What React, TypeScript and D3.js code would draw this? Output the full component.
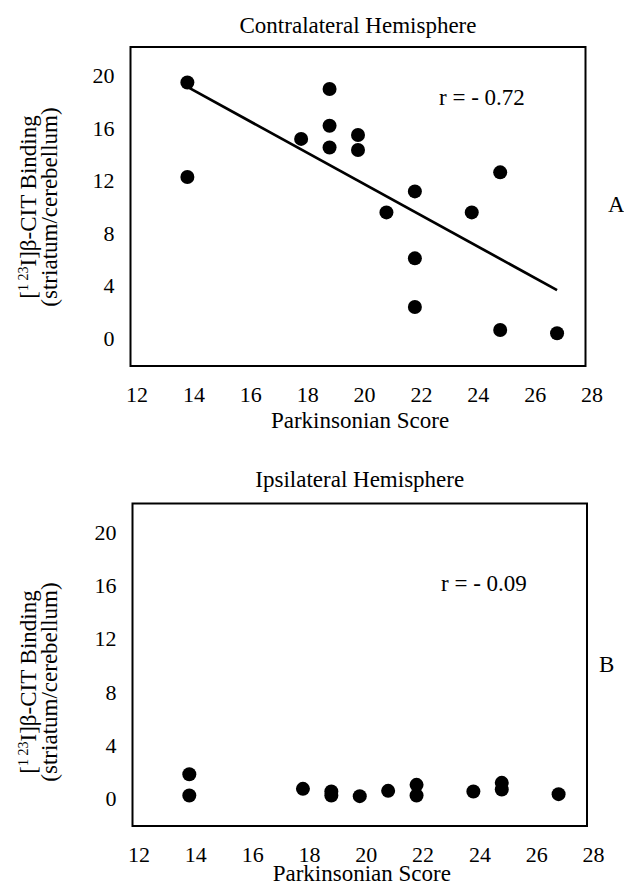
import React, { useRef, useEffect } from 'react';
import * as d3 from 'd3';

// Parkinsonian score vs [123I]β-CIT binding, contralateral / ipsilateral
const contraScores = [14, 14, 18, 19, 19, 19, 20, 20, 21, 22, 22, 22, 24, 25, 25, 27];
const contraBinding = [19.5, 12.3, 15.2, 19.0, 16.2, 14.55, 15.5, 14.35, 9.6, 11.2, 6.1, 2.4, 9.6, 12.65, 0.64, 0.4];

const ipsiScores = [14, 14, 18, 19, 19, 20, 21, 22, 22, 24, 25, 25, 27];
const ipsiBinding = [1.8, 0.2, 0.7, 0.5, 0.2, 0.15, 0.55, 1.0, 0.2, 0.5, 1.15, 0.65, 0.3];

const xTicks = [12, 14, 16, 18, 20, 22, 24, 26, 28];
const yTicks = [0, 4, 8, 12, 16, 20];

const titles = ['Contralateral Hemisphere', 'Ipsilateral Hemisphere'];
const rLabels = ['r = - 0.72', 'r = - 0.09'];
const panelLetters = ['A', 'B'];

const FONT = '"Liberation Serif", "Times New Roman", Times, serif';

const panels = [
  {
    xs: contraScores, ys: contraBinding, fit: true,
    title: titles[0], r: rLabels[0], letter: panelLetters[0],
    left: 130.5, right: 585.5, top: 47, bottom: 366,
    titleY: 33, xLabelY: 428, yLabelCY: 207, rX: 439, rY: 105, letterX: 608, letterY: 212,
  },
  {
    xs: ipsiScores, ys: ipsiBinding, fit: false,
    title: titles[1], r: rLabels[1], letter: panelLetters[1],
    left: 132.5, right: 587, top: 503.5, bottom: 826,
    titleY: 487, xLabelY: 881, yLabelCY: 682, rX: 441, rY: 591, letterX: 599, letterY: 672,
  },
];

function drawPanel(svg: any, p: any) {
  const x = d3.scaleLinear().domain([12, 28]).range([p.left, p.right]);
  const y = d3.scaleLinear().domain([-2.1, 22.2]).range([p.bottom, p.top]);

  const g = svg.append('g').attr('fill', '#000');

  // frame
  g.append('rect')
    .attr('x', p.left).attr('y', p.top)
    .attr('width', p.right - p.left).attr('height', p.bottom - p.top)
    .attr('fill', 'none').attr('stroke', '#000').attr('stroke-width', 2);

  // x axis labels (no ticks)
  const gx = g.append('g')
    .attr('transform', `translate(0,${p.bottom})`)
    .call(d3.axisBottom(x).tickValues(xTicks).tickSize(0).tickPadding(20).tickFormat(d3.format('d')));
  gx.select('.domain').remove();
  gx.selectAll('text').attr('dx', 6).attr('fill', '#000').style('font-size', '22px');

  // y axis labels
  const gy = g.append('g')
    .attr('transform', `translate(${p.left},0)`)
    .call(d3.axisLeft(y).tickValues(yTicks).tickSize(0).tickPadding(16).tickFormat(d3.format('d')));
  gy.select('.domain').remove();
  gy.selectAll('text').attr('fill', '#000').style('font-size', '22px');

  // titles
  g.append('text')
    .attr('x', (p.left + p.right) / 2).attr('y', p.titleY)
    .attr('text-anchor', 'middle').style('font-size', '23px')
    .text(p.title);

  g.append('text')
    .attr('x', (p.left + p.right) / 2 + 2).attr('y', p.xLabelY)
    .attr('text-anchor', 'middle').style('font-size', '23px')
    .text('Parkinsonian Score');

  // y label, two lines
  const yl1 = g.append('text')
    .attr('transform', `translate(36,${p.yLabelCY}) rotate(-90)`)
    .attr('text-anchor', 'middle').style('font-size', '23px');
  yl1.append('tspan').text('[');
  yl1.append('tspan').style('font-size', '14px').attr('dy', -8).text('1 23');
  yl1.append('tspan').attr('dy', 8).text('I]β-CIT Binding');

  g.append('text')
    .attr('transform', `translate(57,${p.yLabelCY}) rotate(-90)`)
    .attr('text-anchor', 'middle').style('font-size', '23px')
    .text('(striatum/cerebellum)');

  g.append('text').attr('x', p.rX).attr('y', p.rY).style('font-size', '23px').text(p.r);
  g.append('text').attr('x', p.letterX).attr('y', p.letterY).style('font-size', '23px').text(p.letter);

  const pts = p.xs.map((v: number, i: number) => [v, p.ys[i]]);

  // least-squares fit
  if (p.fit) {
    const mx = d3.mean(p.xs as number[]) as number;
    const my = d3.mean(p.ys as number[]) as number;
    const sxy = d3.sum(pts, (d: number[]) => (d[0] - mx) * (d[1] - my));
    const sxx = d3.sum(pts, (d: number[]) => (d[0] - mx) * (d[0] - mx));
    const slope = sxy / sxx;
    const [x0, x1] = d3.extent(p.xs as number[]) as [number, number];
    const line = d3.line<number[]>().x(d => x(d[0])).y(d => y(d[1]));
    g.append('path')
      .attr('d', line([[x0, my + slope * (x0 - mx)], [x1, my + slope * (x1 - mx)]]))
      .attr('fill', 'none').attr('stroke', '#000').attr('stroke-width', 2.7);
  }

  g.selectAll('circle.pt')
    .data(pts)
    .enter()
    .append('circle')
    .attr('class', 'pt')
    .attr('cx', (d: number[]) => x(d[0]))
    .attr('cy', (d: number[]) => y(d[1]))
    .attr('r', 7)
    .attr('fill', '#000');

  g.selectAll('text').style('font-family', FONT);
}

export default function App() {
  const svgRef = useRef<SVGSVGElement>(null);

  useEffect(() => {
    const svg = d3.select(svgRef.current);
    svg.selectAll('*').remove();
    panels.forEach(p => drawPanel(svg, p));
  }, []);

  return (
    <svg
      ref={svgRef}
      width={624}
      height={885}
      style={{ position: 'absolute', left: 0, top: 0, background: '#fff' }}
    />
  );
}
